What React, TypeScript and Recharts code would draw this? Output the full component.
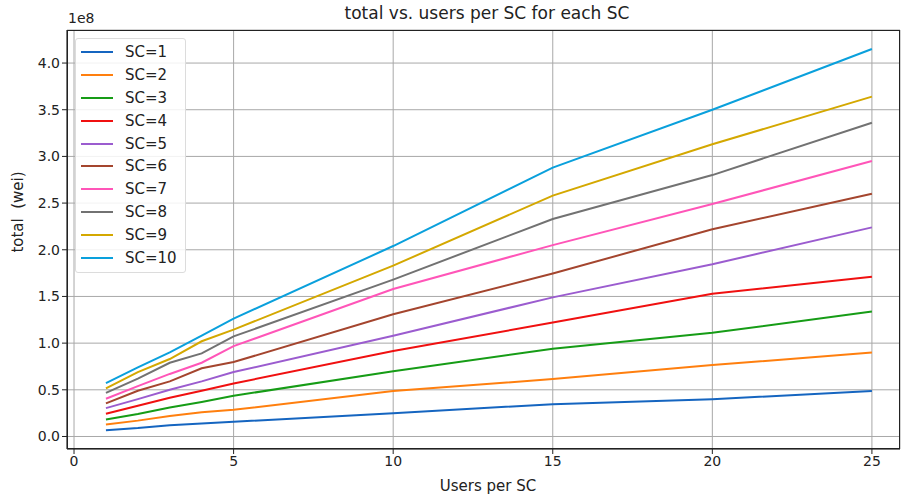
import React from "react";
import {
  LineChart,
  Line,
  XAxis,
  YAxis,
  CartesianGrid,
} from "recharts";

// users per SC (x axis)
const usersPerSC = [1, 2, 3, 4, 5, 10, 15, 20, 25];

// total in units of 1e8 wei, one array per SC
const sc1 = [0.068, 0.09, 0.12, 0.14, 0.157, 0.25, 0.346, 0.4, 0.486];
const sc2 = [0.129, 0.17, 0.22, 0.26, 0.286, 0.486, 0.615, 0.765, 0.9];
const sc3 = [0.182, 0.24, 0.31, 0.37, 0.436, 0.7, 0.94, 1.11, 1.34];
const sc4 = [0.243, 0.33, 0.415, 0.49, 0.568, 0.915, 1.22, 1.53, 1.71];
const sc5 = [0.304, 0.4, 0.5, 0.59, 0.69, 1.08, 1.49, 1.845, 2.24];
const sc6 = [0.354, 0.49, 0.59, 0.73, 0.797, 1.31, 1.745, 2.22, 2.6];
const sc7 = [0.404, 0.54, 0.67, 0.79, 0.968, 1.58, 2.05, 2.49, 2.95];
const sc8 = [0.468, 0.62, 0.79, 0.89, 1.072, 1.68, 2.33, 2.8, 3.36];
const sc9 = [0.515, 0.69, 0.83, 1.02, 1.144, 1.83, 2.58, 3.13, 3.64];
const sc10 = [0.572, 0.74, 0.9, 1.08, 1.262, 2.04, 2.88, 3.5, 4.15];

const seriesValues = [sc1, sc2, sc3, sc4, sc5, sc6, sc7, sc8, sc9, sc10];
const seriesNames = [
  "SC=1",
  "SC=2",
  "SC=3",
  "SC=4",
  "SC=5",
  "SC=6",
  "SC=7",
  "SC=8",
  "SC=9",
  "SC=10",
];
const colors = [
  "#1565c0",
  "#ff7f0e",
  "#169c16",
  "#f01010",
  "#9b5ccf",
  "#a4452e",
  "#ff55b8",
  "#727272",
  "#d4a800",
  "#0aa0dc",
];

const xTicks = [0, 5, 10, 15, 20, 25];
const yTicks = [0, 0.5, 1, 1.5, 2, 2.5, 3, 3.5, 4];

const data = usersPerSC.map((u, i) => {
  const row: Record<string, number> = { users: u };
  seriesNames.forEach((name, s) => {
    row[name] = seriesValues[s][i];
  });
  return row;
});

const font = "'DejaVu Sans', sans-serif";

function LegendBox() {
  return (
    <div
      style={{
        position: "absolute",
        left: 75,
        top: 38,
        border: "1px solid #dcdcdc",
        background: "rgba(255,255,255,0.85)",
        borderRadius: 3,
        padding: "2px 8px 3px 5px",
        fontSize: 15,
        color: "#222",
      }}
    >
      {seriesNames.map((name, i) => (
        <div
          key={name}
          style={{ display: "flex", alignItems: "center", height: 22.8 }}
        >
          <div
            style={{
              width: 32,
              height: 2,
              background: colors[i],
              marginRight: 12,
            }}
          />
          <span>{name}</span>
        </div>
      ))}
    </div>
  );
}

export default function App() {
  return (
    <div
      style={{
        position: "absolute",
        left: 0,
        top: 0,
        width: 901,
        height: 498,
        background: "#fff",
        fontFamily: font,
      }}
    >
      <LineChart
        width={901}
        height={498}
        data={data}
        margin={{ top: 30, right: 1, left: 0, bottom: 0 }}
      >
        <CartesianGrid stroke="#a8a8a8" strokeWidth={1} />
        <XAxis
          dataKey="users"
          type="number"
          domain={[-0.22, 25.88]}
          ticks={xTicks}
          allowDataOverflow
          height={49}
          stroke="#222"
          tickSize={5}
          tick={{ fill: "#222", fontSize: 14, fontFamily: font }}
        />
        <YAxis
          type="number"
          domain={[-0.134, 4.354]}
          ticks={yTicks}
          allowDataOverflow
          width={67}
          stroke="#222"
          tickSize={5}
          tickFormatter={(v) => Number(v).toFixed(1)}
          tick={{ fill: "#222", fontSize: 14, fontFamily: font }}
        />
        {seriesNames.map((name, i) => (
          <Line
            key={name}
            type="linear"
            dataKey={name}
            stroke={colors[i]}
            strokeWidth={2}
            dot={false}
            isAnimationActive={false}
          />
        ))}
      </LineChart>
      <div
        style={{
          position: "absolute",
          left: 67,
          top: 30,
          width: 833,
          height: 419,
          border: "1px solid #222",
          boxSizing: "border-box",
          pointerEvents: "none",
        }}
      />
      <LegendBox />
      <div
        style={{
          position: "absolute",
          top: 3,
          left: 0,
          width: 974,
          textAlign: "center",
          fontSize: 17,
          color: "#222",
        }}
      >
        total vs. users per SC for each SC
      </div>
      <div
        style={{
          position: "absolute",
          top: 10,
          left: 68,
          fontSize: 14,
          color: "#222",
        }}
      >
        1e8
      </div>
      <div
        style={{
          position: "absolute",
          top: 477,
          left: 0,
          width: 976,
          textAlign: "center",
          fontSize: 15,
          color: "#222",
        }}
      >
        Users per SC
      </div>
      <div
        style={{
          position: "absolute",
          left: 18,
          top: 212,
          transform: "translate(-50%, -50%) rotate(-90deg)",
          whiteSpace: "pre",
          fontSize: 15,
          color: "#222",
        }}
      >
        {"total  (wei)"}
      </div>
    </div>
  );
}
